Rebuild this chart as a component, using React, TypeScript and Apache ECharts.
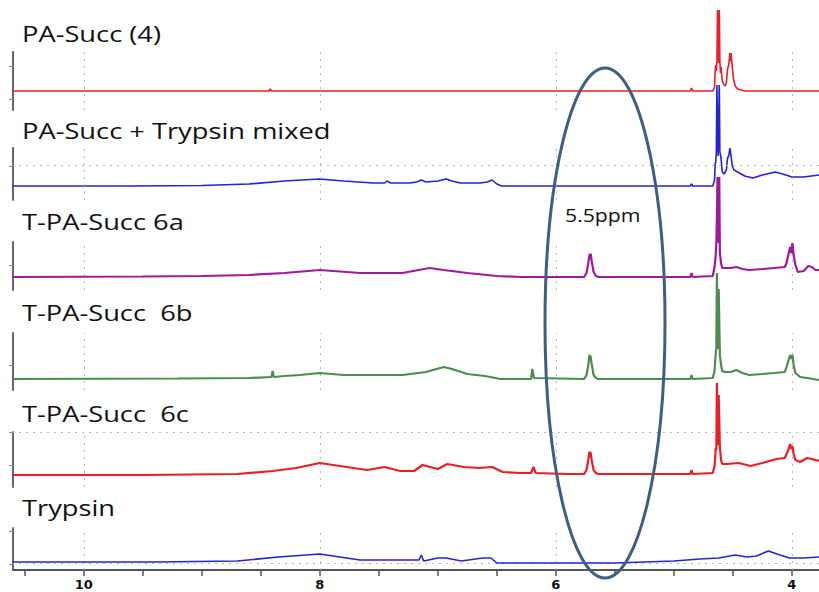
import React, { useEffect, useRef } from "react";
import * as echarts from "echarts";

// ppm axis
const ppmMin = 3.77;
const ppmMax = 10.6;
const ppmTicks = [4, 4.5, 5, 5.5, 6, 6.5, 7, 7.5, 8, 8.5, 9, 9.5, 10, 10.5];
const ppmLabels = [4, 6, 8, 10];

const titles = [
  "PA-Succ (4)",
  "PA-Succ + Trypsin mixed",
  "T-PA-Succ 6a",
  "T-PA-Succ  6b",
  "T-PA-Succ  6c",
  "Trypsin",
];
const annotation = "5.5ppm";

// spectra: [ppm, intensity]
const paSucc4 = [
  [10.6, 0], [9.6, 0], [9.0, 0], [8.43, 0], [8.42, 2], [8.41, 0], [7.5, 0], [6.5, 0], [5.8, 0], [5.2, 0],
  [4.86, 0], [4.85, 3], [4.84, 0], [4.67, 0], [4.655, 4], [4.65, 20], [4.645, 26], [4.64, 20], [4.635, 30], [4.63, 81],
  [4.625, 50], [4.62, 28], [4.615, 81], [4.61, 30], [4.605, 18], [4.6, 24], [4.59, 10], [4.575, 6], [4.565, 5], [4.555, 8],
  [4.545, 22], [4.535, 26], [4.525, 38], [4.52, 30], [4.515, 38], [4.505, 24], [4.495, 12], [4.48, 5],
  [4.46, 2], [4.43, 1], [4.4, 0], [4.2, 0], [4.0, 0], [3.77, 0],
];
const paSuccTrypsin = [
  [10.6, 0], [9.6, 0], [9.0, 0.5], [8.6, 2], [8.3, 5], [8.0, 7], [7.8, 5], [7.55, 3], [7.45, 3], [7.43, 5],
  [7.4, 3], [7.24, 3], [7.18, 4], [7.14, 6], [7.1, 4], [7.0, 5], [6.93, 7], [6.88, 5], [6.81, 3], [6.64, 3],
  [6.58, 4], [6.54, 6], [6.5, 2], [6.46, 0], [5.8, 0], [5.2, 0], [4.86, 0], [4.85, 2], [4.84, 0], [4.67, 0],
  [4.655, 6], [4.65, 22], [4.645, 24], [4.64, 34], [4.635, 101], [4.63, 60], [4.625, 30], [4.615, 101], [4.61, 34],
  [4.6, 28], [4.59, 14], [4.575, 12], [4.555, 16], [4.545, 28], [4.535, 30], [4.525, 38], [4.515, 30],
  [4.505, 20], [4.49, 16], [4.46, 14], [4.4, 10], [4.33, 8], [4.25, 11], [4.14, 14], [4.05, 11], [4.0, 9],
  [3.9, 9], [3.77, 11],
];
const tPaSucc6a = [
  [10.6, 0], [9.5, 0.5], [9.0, 1], [8.6, 2], [8.3, 4], [8.0, 7], [7.66, 4], [7.3, 4], [7.07, 9], [6.95, 7],
  [6.75, 4], [6.5, 1], [6.3, 0], [6.0, 0], [5.76, 0], [5.74, 4], [5.725, 14], [5.715, 22], [5.705, 23],
  [5.695, 15], [5.68, 5], [5.66, 1], [5.64, 0], [5.2, 0], [4.86, 0], [4.85, 4], [4.84, 0], [4.67, 1],
  [4.655, 10], [4.645, 22], [4.64, 34], [4.635, 60], [4.63, 100], [4.625, 60], [4.62, 34], [4.615, 100],
  [4.61, 24], [4.6, 14], [4.59, 9], [4.57, 9], [4.52, 9], [4.47, 10], [4.42, 8], [4.36, 7], [4.25, 8],
  [4.15, 9], [4.06, 10], [4.045, 14], [4.03, 22], [4.015, 30], [4.005, 24], [3.995, 34], [3.985, 22],
  [3.97, 12], [3.95, 5], [3.9, 6], [3.86, 11], [3.83, 10], [3.8, 7], [3.77, 7],
];
const tPaSucc6b = [
  [10.6, 0], [9.2, 0.5], [8.6, 1], [8.41, 2], [8.4, 8], [8.39, 2], [8.3, 3], [8.17, 4], [8.0, 6], [7.8, 4],
  [7.6, 4], [7.3, 4], [7.1, 7], [6.95, 12], [6.88, 10], [6.75, 5], [6.6, 3], [6.47, 0], [6.21, 0], [6.2, 10],
  [6.185, 1], [5.76, 0], [5.74, 4], [5.725, 14], [5.715, 24], [5.705, 22], [5.695, 14], [5.68, 4], [5.66, 1],
  [5.64, 0], [4.86, 0], [4.85, 4], [4.84, 0], [4.67, 1], [4.655, 8], [4.645, 26], [4.64, 30], [4.635, 106],
  [4.63, 60], [4.625, 30], [4.62, 90], [4.61, 24], [4.6, 14], [4.59, 8], [4.57, 7], [4.52, 7], [4.47, 9],
  [4.42, 6], [4.36, 4], [4.25, 5], [4.15, 6], [4.06, 7], [4.045, 12], [4.03, 18], [4.015, 24], [4.005, 20],
  [3.995, 24], [3.985, 14], [3.97, 6], [3.93, 2], [3.87, 1], [3.82, 0], [3.77, -1],
];
const tPaSucc6c = [
  [10.6, 0], [9.5, 0], [8.7, 1], [8.4, 4], [8.2, 7], [8.0, 12], [7.83, 9], [7.6, 5], [7.45, 8], [7.32, 4],
  [7.2, 4], [7.13, 10], [7.0, 6], [6.92, 11], [6.78, 8], [6.65, 7], [6.54, 8], [6.45, 3], [6.3, 2], [6.21, 2],
  [6.19, 8], [6.17, 2], [5.9, 1], [5.76, 1], [5.74, 5], [5.725, 15], [5.715, 23], [5.705, 22], [5.695, 14],
  [5.68, 5], [5.66, 2], [5.64, 1], [4.86, 1], [4.85, 5], [4.84, 1], [4.67, 2], [4.655, 9], [4.645, 27],
  [4.64, 25], [4.635, 92], [4.63, 50], [4.625, 30], [4.62, 80], [4.61, 28], [4.6, 15], [4.59, 11], [4.55, 11],
  [4.45, 12], [4.35, 9], [4.25, 12], [4.13, 16], [4.06, 17], [4.045, 21], [4.03, 25], [4.015, 31], [4.005, 26],
  [3.995, 29], [3.985, 21], [3.97, 15], [3.93, 13], [3.87, 17], [3.83, 16], [3.77, 14],
];
const trypsin = [
  [10.6, 0], [9.4, 0], [8.7, 1], [8.35, 5], [8.0, 8], [7.83, 5], [7.66, 2], [7.3, 2], [7.16, 2], [7.14, 7],
  [7.12, 1], [7.0, 4], [6.93, 4], [6.8, 1], [6.62, 4], [6.55, 4], [6.5, -1], [5.5, -1], [5.0, 1], [4.78, 3],
  [4.62, 4], [4.48, 7], [4.38, 5], [4.3, 6], [4.2, 11], [4.1, 7], [4.02, 4], [3.9, 4], [3.77, 5],
];

const spectra = [paSucc4, paSuccTrypsin, tPaSucc6a, tPaSucc6b, tPaSucc6c, trypsin];
const colors = ["#ee1c24", "#2222d8", "#a3189b", "#4c8c4c", "#ee1c24", "#2424d4"];
const widths = [1.6, 1.6, 2.2, 2.2, 2.2, 1.6];

// panel layout (pixels) and per-panel y ranges / ticks / dotted levels
const panelTop = [52, 148, 242, 333, 432, 528];
const panelHeight = [58, 52, 48, 57, 55, 42];
const panelYMin = [-19, -14, -13, -11, -12, -8];
const panelYMax = [39, 38, 35, 46, 43, 34];
const panelYTicks = [[-8, 25], [20], [12], [14], [10, 43], [-2, 31]];
const panelHLines = [[], [21], [], [], [43], [-1]];
const titleY = [34, 131, 222, 313, 414, 508];

export default function App() {
  const ref = useRef<HTMLDivElement>(null);
  useEffect(() => {
    if (!ref.current) return;
    const chart = echarts.init(ref.current, null, { renderer: "svg" });
    const n = spectra.length;
    const grid = spectra.map((_, i) => ({
      left: 13,
      right: 0,
      top: panelTop[i],
      height: panelHeight[i],
      containLabel: false,
      outerBoundsMode: "none",
    }));
    const xAxis = spectra.map((_, i) => ({
      gridIndex: i,
      type: "value",
      min: ppmMin,
      max: ppmMax,
      inverse: true,
      show: i === n - 1,
      axisLine: { show: true, onZero: false, lineStyle: { color: "#555", width: 2 } },
      axisTick: { show: true, customValues: ppmTicks, length: 6, lineStyle: { color: "#555", width: 1.5 } },
      axisLabel: {
        show: true,
        customValues: ppmLabels,
        fontWeight: "bold",
        fontSize: 13,
        fontFamily: "DejaVu Sans",
        color: "#111",
        margin: 8,
      },
      splitLine: { show: false },
    }));
    const yAxis = spectra.map((_, i) => ({
      gridIndex: i,
      type: "value",
      min: panelYMin[i],
      max: panelYMax[i],
      axisLine: { show: true, onZero: false, lineStyle: { color: "#666", width: 2 } },
      axisTick: { show: true, customValues: panelYTicks[i], length: 4, lineStyle: { color: "#888", width: 1 } },
      axisLabel: { show: false },
      splitLine: { show: false },
    }));
    const series = spectra.map((d, i) => ({
      type: "line",
      name: titles[i],
      xAxisIndex: i,
      yAxisIndex: i,
      data: d,
      symbol: "none",
      showSymbol: false,
      clip: false,
      z: 3 + i,
      lineStyle: { color: colors[i], width: widths[i] },
      itemStyle: { color: colors[i] },
      markLine: {
        silent: true,
        symbol: "none",
        label: { show: false },
        lineStyle: { color: "#b8b8b8", type: [2, 5], width: 1 },
        data: [
          ...ppmLabels.map((v) => ({ xAxis: v })),
          ...panelHLines[i].map((v) => ({ yAxis: v })),
        ],
      },
    }));
    const graphic: any[] = titles.map((t, i) => ({
      type: "text",
      x: 22,
      y: titleY[i],
      scaleX: 1.24,
      silent: true,
      style: {
        text: t,
        fontSize: 22,
        fontFamily: "Open Sans",
        fill: "#111",
        align: "left",
        verticalAlign: "middle",
      },
    }));
    graphic.push({
      type: "text",
      x: 565,
      y: 215,
      scaleX: 1.18,
      silent: true,
      style: { text: annotation, fontSize: 18, fontFamily: "Open Sans", fill: "#111", verticalAlign: "middle" },
    });
    graphic.push({
      type: "ellipse",
      silent: true,
      z: 100,
      shape: { cx: 605, cy: 323, rx: 60, ry: 255 },
      style: { fill: "none", stroke: "#3e5e82", lineWidth: 3 },
    });
    chart.setOption({
      animation: false,
      backgroundColor: "#fff",
      grid,
      xAxis,
      yAxis,
      series,
      graphic,
    });
    return () => chart.dispose();
  }, []);
  return (
    <div
      ref={ref}
      style={{ position: "fixed", left: 0, top: 0, width: 819, height: 592, background: "#fff" }}
    />
  );
}
